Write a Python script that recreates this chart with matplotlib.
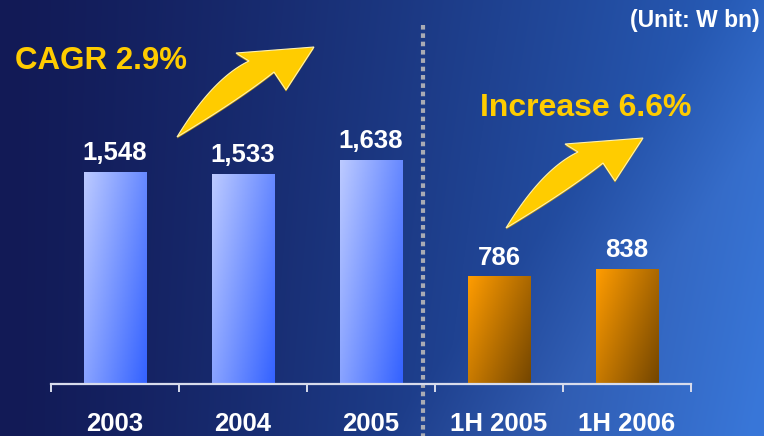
import numpy as np
import matplotlib
matplotlib.use("Agg")
import matplotlib.pyplot as plt
from matplotlib.patches import Polygon
from matplotlib.transforms import Affine2D
from matplotlib.colors import to_rgb

# data
categories = ["2003", "2004", "2005", "1H 2005", "1H 2006"]
values = [1548, 1533, 1638, 786, 838]
is_half = [False, False, False, True, True]
unit_text = "(Unit: W bn)"
note_full = "CAGR 2.9%"
note_half = "Increase 6.6%"

W, H = 764, 436
plt.rcParams["font.family"] = ["Liberation Sans", "DejaVu Sans"]
plt.rcParams["font.weight"] = "bold"

fig = plt.figure(figsize=(W / 100, H / 100), dpi=100)
# pixel coordinates with y going down (for annotations only)
px = Affine2D().scale(1 / W, -1 / H).translate(0, 1) + fig.transFigure

# background gradient
bg = fig.add_axes([0, 0, 1, 1])
bg.set_axis_off()
yy, xx = np.mgrid[0:H, 0:W]
u = xx / (W - 1)
v = yy / (H - 1)
left = np.array(to_rgb("#121a56"))
right = np.array(to_rgb("#2c6acc"))
t = np.clip(u ** 1.3 * (0.86 + 0.16 * v), 0, 1)
img = left[None, None, :] * (1 - t[..., None]) + right[None, None, :] * t[..., None]
# soft lighter diagonal region on the right
d = (xx - 380) * 406 - (436 - yy) * 320
band = np.clip(d / 60000.0, 0, 1) * 0.05
img = np.clip(img + band[..., None], 0, 1)
bg.imshow(img, extent=[0, 1, 0, 1], aspect="auto", origin="upper")
bg.set_xlim(0, 1)
bg.set_ylim(0, 1)

ax = fig.add_axes([0, 0, 1, 1])
ax.patch.set_alpha(0)
k = 212 / 1548  # px per unit
x = np.arange(len(categories))

bars = ax.bar(x, values, width=0.49, facecolor="none", edgecolor="none")


def grad_fill(rect, c_tl, c_br, wu):
    g_u, g_v = np.meshgrid(np.linspace(0, 1, 40), np.linspace(0, 1, 120))
    tt = np.clip(wu * g_u + (1 - wu) * g_v, 0, 1)
    a = np.array(to_rgb(c_tl))
    b = np.array(to_rgb(c_br))
    im = a[None, None, :] * (1 - tt[..., None]) + b[None, None, :] * tt[..., None]
    x0 = rect.get_x()
    x1 = x0 + rect.get_width()
    h = rect.get_height()
    art = ax.imshow(im, extent=[x0, x1, 0, h], origin="upper", aspect="auto",
                    zorder=2)
    art.set_clip_path(rect)


for rect, half in zip(bars, is_half):
    if half:
        grad_fill(rect, "#ff9c00", "#744600", 0.6)
    else:
        grad_fill(rect, "#bccaff", "#3462ff", 0.62)

for i, val in enumerate(values):
    ax.annotate(f"{val:,}", (x[i], val), xytext=(0, 8.5), textcoords="offset points",
                ha="center", va="baseline", color="white", fontsize=18.5,
                fontweight="bold", zorder=5)
    ax.text(x[i], (384 - 431) / k, categories[i], ha="center", va="baseline",
            color="white", fontsize=18.5, fontweight="bold")

ax.set_xlim(-115 / 128, (W - 115) / 128)
ax.set_ylim(-52 / k, 384 / k)

# axis line with ticks
ax.spines[["top", "right", "left"]].set_visible(False)
ax.spines["bottom"].set_position(("data", 0))
ax.spines["bottom"].set_bounds(-0.5, len(categories) - 0.5)
ax.spines["bottom"].set_color("#d8dcec")
ax.spines["bottom"].set_linewidth(1.6)
ax.spines["bottom"].set_zorder(3)
ax.set_xticks(np.arange(-0.5, len(categories), 1.0))
ax.set_xticklabels([])
ax.tick_params(axis="x", direction="out", length=6, width=1.4, color="#d8dcec")
ax.set_yticks([])

# dotted separator
ax.plot([2.405, 2.405], [(384 - 25) / k, -52 / k], color="#a9abb4", lw=3.0,
        dashes=(1.1, 0.9), zorder=1, solid_capstyle="butt", dash_capstyle="butt")

# texts
fig.text(15, 69, note_full, transform=px, color="#ffcc00", fontsize=22.5,
         fontweight="bold", ha="left", va="baseline")
fig.text(480, 116, note_half, transform=px, color="#ffcc00", fontsize=23,
         fontweight="bold", ha="left", va="baseline")
fig.text(760, 27, unit_text, transform=px, color="white", fontsize=16.5,
         fontweight="bold", ha="right", va="baseline")


def bez(p0, c, p2, n=30):
    s = np.linspace(0, 1, n)[:, None]
    return (1 - s) ** 2 * np.array(p0) + 2 * (1 - s) * s * np.array(c) + s ** 2 * np.array(p2)


def arrow(dx, dy):
    tail = (177, 137)
    upper = bez(tail, (213, 78), (249, 61))
    lower = bez(tail, (240, 99), (274, 72))[::-1]
    head = np.array([(236, 53), (314, 47), (286, 90)])
    pts = np.vstack([upper, head, lower]) + np.array([dx, dy])
    shadow = Polygon(pts + np.array([0, 1.5]), closed=True, transform=px,
                     facecolor="#c89a00", edgecolor="none", zorder=6)
    body = Polygon(pts, closed=True, transform=px, facecolor="#ffcc00",
                   edgecolor="#fff2b0", lw=0.8, zorder=7)
    fig.add_artist(shadow)
    fig.add_artist(body)


arrow(0, 0)
arrow(329, 91)

fig.savefig("out.png", dpi=100)
